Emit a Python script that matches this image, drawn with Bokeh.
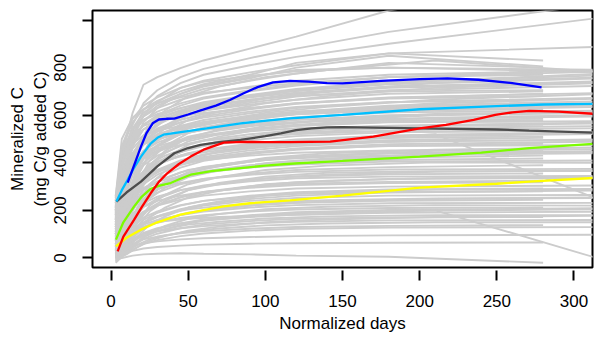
from bokeh.plotting import figure
from bokeh.models import Range1d, FixedTicker
from bokeh.embed import file_html
from bokeh.resources import INLINE

# ---------------- data ----------------
x_ticks = [0, 50, 100, 150, 200, 250, 300]
y_ticks = [0, 200, 400, 600, 800, 1000]
y_tick_labels = {0: "0", 200: "200", 400: "400", 600: "600", 800: "800", 1000: ""}

# day grids used by the individual (grey) incubation curves
days_a = [3, 7, 14, 21, 30, 45, 60, 90, 120, 180, 280]
days_b = [3, 7, 14, 21, 30, 45, 60, 90, 120, 180, 330]
days_c = [3, 10, 17, 25, 35, 50, 70, 100, 140, 210, 320]

gray_a = [
    [240, 460, 570, 625, 660, 700, 730, 770, 820, 860, 830],
    [215, 420, 545, 610, 650, 690, 720, 755, 800, 850, 805],
    [195, 380, 520, 595, 640, 680, 710, 745, 775, 820, 800],
    [170, 350, 490, 560, 600, 640, 670, 700, 725, 760, 780],
    [260, 500, 590, 625, 650, 675, 695, 715, 735, 760, 770],
    [160, 330, 470, 540, 580, 620, 648, 678, 702, 730, 750],
    [175, 360, 480, 540, 575, 610, 635, 662, 688, 715, 730],
    [200, 390, 490, 540, 570, 600, 620, 645, 665, 690, 700],
    [240, 440, 520, 555, 575, 595, 610, 630, 650, 670, 680],
    [185, 360, 460, 510, 540, 570, 590, 615, 635, 655, 665],
    [70, 170, 320, 420, 470, 520, 550, 580, 605, 630, 645],
    [210, 400, 480, 515, 535, 555, 570, 590, 605, 620, 625],
    [130, 270, 390, 450, 485, 520, 540, 562, 580, 600, 610],
    [75, 180, 320, 400, 445, 490, 515, 542, 560, 578, 585],
    [150, 300, 400, 445, 470, 495, 512, 532, 545, 555, 560],
    [60, 160, 290, 365, 405, 445, 470, 495, 512, 528, 535],
    [85, 190, 300, 360, 395, 430, 452, 475, 492, 505, 510],
    [30, 100, 210, 290, 335, 380, 408, 437, 455, 472, 480],
    [100, 210, 300, 345, 370, 395, 412, 430, 442, 452, 455],
    [40, 115, 210, 270, 305, 340, 365, 390, 408, 422, 430],
    [30, 95, 180, 240, 275, 310, 332, 355, 370, 382, 390],
    [20, 80, 160, 215, 250, 285, 305, 328, 342, 352, 355],
    [15, 65, 140, 190, 222, 255, 276, 298, 312, 320, 325],
    [25, 70, 130, 170, 196, 222, 240, 258, 270, 278, 280],
    [0, 35, 85, 125, 152, 180, 200, 220, 232, 240, 245],
    [30, 65, 105, 132, 150, 168, 180, 195, 204, 210, 212],
    [-15, 15, 50, 80, 102, 125, 140, 155, 165, 170, 172],
    [10, 30, 58, 78, 90, 104, 113, 123, 130, 135, 138],
    [5, 15, 30, 40, 46, 52, 56, 60, 62, 64, 65],
    [-10, 0, 10, 15, 18, 20, 18, 15, 10, 5, -20],
    [130, 280, 420, 490, 530, 570, 595, 625, 648, 672, 690],
    [35, 105, 200, 265, 300, 335, 358, 382, 398, 412, 418],
    [50, 110, 175, 215, 240, 262, 278, 295, 306, 315, 318],
    [60, 150, 260, 330, 370, 410, 435, 460, 478, 495, 505],
    [160, 320, 430, 485, 515, 545, 565, 588, 604, 622, 632],
    [45, 120, 220, 285, 322, 360, 383, 408, 424, 440, 448],
    [15, 55, 115, 160, 190, 220, 240, 262, 276, 288, 292],
    [100, 230, 350, 415, 452, 490, 512, 538, 555, 572, 578],
    [200, 410, 510, 560, 590, 620, 640, 665, 682, 700, 705],
]

gray_b = [
    [250, 430, 610, 728, 760, 798, 830, 880, 930, 1040, 1200],
    [230, 400, 560, 650, 705, 760, 795, 840, 880, 950, 1080],
    [210, 380, 530, 620, 680, 735, 770, 810, 845, 900, 1020],
    [180, 340, 500, 600, 655, 715, 745, 780, 810, 860, 890],
    [160, 310, 470, 570, 630, 690, 725, 760, 790, 800, 780],
    [255, 470, 585, 640, 675, 715, 740, 765, 785, 800, 790],
    [220, 430, 540, 595, 630, 665, 690, 720, 745, 770, 790],
    [200, 400, 520, 580, 615, 650, 675, 705, 730, 760, 785],
    [120, 260, 420, 510, 565, 615, 645, 680, 705, 740, 770],
    [190, 380, 500, 560, 595, 630, 655, 685, 710, 740, 760],
    [130, 280, 430, 515, 560, 605, 635, 665, 690, 720, 745],
    [230, 450, 540, 580, 605, 630, 650, 675, 695, 720, 740],
    [110, 250, 400, 490, 540, 590, 620, 652, 678, 705, 725],
    [150, 310, 440, 505, 545, 580, 605, 630, 650, 675, 695],
    [120, 260, 400, 475, 515, 555, 580, 608, 630, 655, 675],
    [100, 230, 370, 450, 495, 540, 565, 592, 615, 640, 660],
    [165, 330, 440, 490, 520, 550, 570, 595, 612, 632, 640],
    [90, 210, 350, 430, 475, 520, 545, 570, 592, 612, 620],
    [180, 350, 440, 480, 500, 522, 538, 556, 570, 585, 595],
    [110, 240, 360, 425, 460, 495, 515, 538, 555, 570, 575],
    [35, 110, 240, 340, 395, 445, 475, 505, 525, 545, 555],
    [140, 280, 380, 425, 450, 475, 492, 510, 522, 532, 530],
    [45, 130, 250, 320, 360, 400, 425, 452, 470, 488, 500],
    [70, 170, 270, 330, 365, 398, 420, 442, 458, 470, 475],
    [15, 70, 170, 245, 295, 345, 375, 405, 425, 440, 450],
    [80, 170, 250, 295, 320, 345, 362, 380, 393, 405, 410],
    [60, 140, 220, 265, 290, 315, 332, 350, 362, 372, 375],
    [45, 110, 185, 230, 258, 285, 302, 322, 335, 342, 345],
    [35, 90, 155, 195, 220, 245, 262, 280, 292, 300, 305],
    [10, 50, 105, 145, 172, 200, 220, 240, 252, 262, 265],
    [20, 60, 110, 140, 160, 180, 195, 212, 222, 230, 232],
    [5, 35, 75, 105, 125, 145, 158, 172, 182, 190, 195],
    [25, 50, 80, 100, 112, 125, 134, 145, 152, 158, 160],
    [-20, 5, 35, 58, 75, 92, 103, 115, 123, 128, 130],
    [15, 30, 50, 62, 70, 78, 83, 88, 92, 95, 98],
    [50, 130, 240, 310, 350, 390, 415, 442, 460, 478, 490],
    [10, 45, 100, 145, 175, 205, 225, 248, 262, 275, 285],
    [5, 30, 70, 100, 122, 145, 162, 180, 192, 202, 210],
    [90, 200, 320, 390, 430, 470, 495, 520, 538, 556, 570],
    [0, 20, 55, 88, 112, 138, 156, 175, 188, 198, 205],
    [140, 300, 420, 480, 515, 550, 572, 598, 615, 635, 648],
    [75, 180, 290, 355, 392, 430, 455, 480, 498, 515, 528],
    [25, 70, 140, 190, 222, 255, 278, 302, 318, 332, 340],
]

gray_c = [
    [150, 300, 460, 560, 620, 680, 720, 760, 790, 830, 780],
    [140, 300, 450, 530, 580, 625, 655, 690, 715, 745, 775],
    [100, 230, 390, 490, 545, 600, 635, 670, 700, 735, 755],
    [90, 210, 370, 470, 525, 580, 615, 650, 680, 715, 735],
    [80, 190, 340, 440, 495, 545, 575, 610, 635, 665, 690],
    [60, 160, 310, 410, 470, 525, 560, 595, 620, 650, 670],
    [140, 290, 410, 475, 510, 545, 570, 595, 615, 638, 650],
    [50, 140, 290, 390, 450, 505, 540, 575, 598, 622, 635],
    [40, 120, 260, 360, 420, 475, 510, 545, 568, 590, 600],
    [55, 150, 280, 365, 415, 460, 490, 520, 540, 558, 565],
    [95, 210, 330, 395, 430, 465, 488, 512, 528, 540, 545],
    [25, 90, 210, 310, 365, 415, 448, 480, 500, 518, 525],
    [120, 250, 340, 385, 410, 435, 452, 470, 482, 492, 495],
    [20, 80, 180, 260, 310, 360, 390, 420, 440, 455, 465],
    [55, 145, 240, 300, 335, 370, 390, 412, 425, 435, 440],
    [10, 60, 150, 220, 265, 310, 340, 370, 388, 402, 400],
    [5, 50, 130, 195, 240, 285, 315, 342, 358, 365, 365],
    [0, 40, 110, 170, 212, 255, 282, 310, 325, 335, 335],
    [-5, 30, 90, 140, 175, 212, 238, 262, 278, 288, 290],
    [40, 85, 135, 165, 185, 205, 218, 233, 243, 250, 252],
    [-10, 20, 65, 105, 135, 165, 185, 205, 215, 222, 220],
    [15, 45, 80, 105, 122, 140, 152, 166, 175, 180, 180],
    [0, 25, 55, 78, 95, 112, 124, 137, 145, 150, 150],
    [20, 60, 110, 140, 155, 165, 172, 178, 185, 200, -10],
    [100, 220, 320, 380, 410, 440, 460, 480, 495, 520, 235],
    [70, 170, 300, 390, 440, 490, 520, 555, 580, 605, 615],
    [25, 75, 150, 210, 248, 285, 310, 335, 350, 362, 368],
    [20, 55, 105, 140, 165, 190, 208, 226, 238, 248, 255],
    [110, 240, 360, 430, 470, 510, 535, 562, 580, 600, 610],
    [30, 90, 180, 250, 295, 340, 368, 398, 418, 436, 445],
    [65, 160, 270, 340, 380, 420, 446, 474, 492, 512, 522],
    [-5, 15, 45, 72, 92, 115, 132, 150, 162, 172, 178],
    [40, 110, 210, 280, 320, 360, 386, 414, 432, 450, 458],
]

# highlighted (fitted) curves
blue_days = [10.8, 15, 19.4, 23, 27, 31, 36, 41, 50, 58, 68, 77, 86, 95, 105, 116, 128, 140, 150, 175, 200, 218, 238, 260, 279]
blue_vals = [317, 390, 468, 525, 566, 582, 585, 586, 603, 620, 640, 664, 692, 718, 738, 744, 741, 735, 734, 744, 752, 755, 749, 735, 717]

cyan_days = [3.5, 7, 10.8, 15, 19.4, 25.8, 30, 34, 43, 62, 84, 116, 150, 200, 250, 280, 315]
cyan_vals = [237, 285, 329, 380, 426, 482, 505, 518, 527, 545, 566, 587, 601, 625, 638, 645, 648]

dark_days = [3.5, 10, 19.4, 30, 41, 50, 58, 70, 84, 100, 110, 120, 130, 140, 150, 200, 250, 271, 315]
dark_vals = [237, 275, 321, 385, 440, 462, 475, 487, 496, 512, 524, 537, 545, 549, 550, 545, 540, 535, 526]

red_days = [4.3, 8, 15, 20, 25.8, 31, 36.6, 44, 51.6, 60, 73, 85, 100, 116, 142, 170, 200, 217, 235, 249, 260, 271, 290, 315]
red_vals = [28, 90, 161, 215, 273, 320, 357, 395, 426, 455, 485, 488, 487, 487, 489, 510, 545, 559, 580, 601, 612, 618, 615, 605]

green_days = [3.2, 8, 15, 20, 25.8, 32, 38.7, 45, 51.6, 65, 84, 100, 116, 150, 200, 240, 271, 315]
green_vals = [77, 150, 217, 258, 291, 305, 315, 333, 350, 365, 378, 388, 396, 408, 426, 443, 462, 481]

yellow_days = [3.2, 10, 19.4, 30, 45, 60, 73, 90, 116, 150, 200, 250, 271, 315]
yellow_vals = [49, 85, 119, 150, 182, 201, 217, 230, 242, 262, 296, 312, 321, 337]

# ---------------- figure ----------------
FONT = "Liberation Sans"

p = figure(width=594, height=337, output_backend="svg", toolbar_location=None,
           x_range=Range1d(-12, 312), y_range=Range1d(-40, 1040),
           min_border_left=92, min_border_right=2, min_border_top=10, min_border_bottom=70)

p.background_fill_color = "white"
p.border_fill_color = "white"
p.outline_line_color = "black"
p.outline_line_width = 2
p.grid.visible = False

xs = [days_a] * len(gray_a) + [days_b] * len(gray_b) + [days_c] * len(gray_c)
ys = gray_a + gray_b + gray_c
p.multi_line(xs=xs, ys=ys, line_color="#CCCCCC", line_width=1.9)

for d, v, c in [(dark_days, dark_vals, "#4D4D4D"),
                (yellow_days, yellow_vals, "#FFFF00"),
                (green_days, green_vals, "#7CFC00"),
                (red_days, red_vals, "#FF0000"),
                (cyan_days, cyan_vals, "#00BFFF"),
                (blue_days, blue_vals, "#0000FF")]:
    p.line(d, v, line_color=c, line_width=2.3)

# x axis
xa = p.xaxis[0]
xa.ticker = FixedTicker(ticks=x_ticks)
xa.axis_line_color = None
xa.major_tick_in = -3
xa.major_tick_out = 13
xa.major_tick_line_width = 2
xa.minor_tick_line_color = None
xa.major_label_standoff = 14
xa.major_label_text_font = FONT
xa.major_label_text_font_size = "17px"
xa.major_label_text_color = "black"
xa.axis_label = "Normalized days"
xa.axis_label_text_font = FONT
xa.axis_label_text_font_size = "17px"
xa.axis_label_text_font_style = "normal"
xa.axis_label_text_color = "black"
xa.axis_label_standoff = 4

# y axis
ya = p.yaxis[0]
ya.ticker = FixedTicker(ticks=y_ticks)
ya.major_label_overrides = y_tick_labels
ya.axis_line_color = None
ya.major_tick_in = 0
ya.major_tick_out = 10
ya.major_tick_line_width = 2
ya.minor_tick_line_color = None
ya.major_label_orientation = "vertical"
ya.major_label_standoff = 16
ya.major_label_text_font = FONT
ya.major_label_text_font_size = "17px"
ya.major_label_text_color = "black"
ya.axis_label = "Mineralized C\n(mg C/g added C)"
ya.axis_label_text_font = FONT
ya.axis_label_text_font_size = "17px"
ya.axis_label_text_font_style = "normal"
ya.axis_label_text_color = "black"
ya.axis_label_standoff = 2

open("out.html", "w").write(file_html(p, INLINE))
